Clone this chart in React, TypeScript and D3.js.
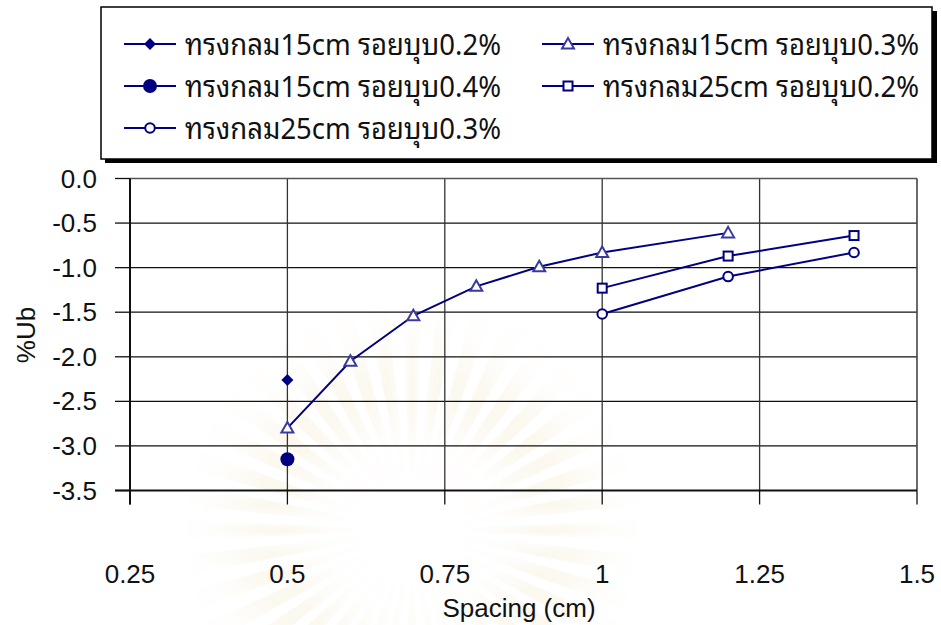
import React from "react";
import * as d3 from "d3";

// Spacing (cm) on x, %Ub on y
const s1x = [0.5];
const s1y = [-2.26];
const s2x = [0.5, 0.6, 0.7, 0.8, 0.9, 1.0, 1.2];
const s2y = [-2.8, -2.05, -1.54, -1.21, -0.99, -0.83, -0.61];
const s3x = [0.5];
const s3y = [-3.15];
const s4x = [1.0, 1.2, 1.4];
const s4y = [-1.23, -0.87, -0.64];
const s5x = [1.0, 1.2, 1.4];
const s5y = [-1.52, -1.1, -0.83];

const seriesNames = [
  "ทรงกลม15cm รอยบุบ0.2%",
  "ทรงกลม15cm รอยบุบ0.3%",
  "ทรงกลม15cm รอยบุบ0.4%",
  "ทรงกลม25cm รอยบุบ0.2%",
  "ทรงกลม25cm รอยบุบ0.3%",
];
const markerKinds = ["diamond", "triangle", "dot", "square", "circle"];

const xTicks = [0.25, 0.5, 0.75, 1, 1.25, 1.5];
const xTickLabels = ["0.25", "0.5", "0.75", "1", "1.25", "1.5"];
const yTicks = [0, -0.5, -1, -1.5, -2, -2.5, -3, -3.5];
const yTickLabels = ["0.0", "-0.5", "-1.0", "-1.5", "-2.0", "-2.5", "-3.0", "-3.5"];

const W = 941;
const H = 625;
const NAVY = "#000080";
const TRI = "#3a3a9e";
const FONT = "Liberation Sans, Arial, Helvetica, sans-serif";
const THAI_FONT =
  "'Noto Sans Thai Looped', 'Noto Serif Thai', Loma, Garuda, 'Tlwg Typo', 'Noto Sans Thai', 'Liberation Sans', sans-serif";

function Marker({ kind, cx, cy }: { kind: string; cx: number; cy: number }) {
  if (kind === "diamond") {
    const r = 6;
    return (
      <path
        d={`M${cx},${cy - r}L${cx + r},${cy}L${cx},${cy + r}L${cx - r},${cy}Z`}
        fill={NAVY}
      />
    );
  }
  if (kind === "dot") {
    return <circle cx={cx} cy={cy} r={7} fill={NAVY} />;
  }
  if (kind === "triangle") {
    const r = 6;
    return (
      <path
        d={`M${cx},${cy - r}L${cx + r},${cy + r * 0.75}L${cx - r},${cy + r * 0.75}Z`}
        fill="white"
        stroke={TRI}
        strokeWidth={2}
      />
    );
  }
  if (kind === "square") {
    return (
      <rect x={cx - 4.5} y={cy - 4.5} width={9} height={9} fill="white" stroke={NAVY} strokeWidth={2} />
    );
  }
  return <circle cx={cx} cy={cy} r={4.8} fill="white" stroke={NAVY} strokeWidth={2} />;
}

export default function App() {
  const left = 130;
  const right = 917;
  const top = 178.5;
  const bottom = 490.5;

  const x = d3.scaleLinear().domain([0.25, 1.5]).range([left, right]);
  const y = d3.scaleLinear().domain([0, -3.5]).range([top, bottom]);

  const series = [
    { xs: s1x, ys: s1y },
    { xs: s2x, ys: s2y },
    { xs: s3x, ys: s3y },
    { xs: s4x, ys: s4y },
    { xs: s5x, ys: s5y },
  ];

  const line = d3
    .line<[number, number]>()
    .x((d) => x(d[0]))
    .y((d) => y(d[1]));

  // faint sunburst emblem in the page background
  const rayArc = d3.arc<any>();
  const rays = d3.range(0, 40).map((i) => {
    const a0 = (i / 40) * Math.PI * 2;
    return rayArc({
      innerRadius: 55,
      outerRadius: 225,
      startAngle: a0 - 0.045,
      endAngle: a0 + 0.045,
    }) as string;
  });

  // legend layout: two columns, three rows
  const legendCols = [124, 542];
  const legendRows = [44, 86, 128];
  const legendOrder = [0, 1, 2, 3, 4];

  return (
    <svg width={W} height={H} style={{ display: "block", position: "absolute", left: 0, top: 0 }}>
      <rect x={0} y={0} width={W} height={H} fill="white" />
      <defs>
        <radialGradient id="emblemFade" cx="0.5" cy="0.5" r="0.5">
          <stop offset="0.2" stopColor="#f7eed6" stopOpacity={0.8} />
          <stop offset="1" stopColor="#fcf8ec" stopOpacity={0.15} />
        </radialGradient>
      </defs>
      <g transform="translate(412,530)" opacity={0.45}>
        {rays.map((d, i) => (
          <path key={i} d={d} fill="url(#emblemFade)" />
        ))}
      </g>

      {/* gridlines */}
      {yTicks
        .filter((t) => t !== 0 && t !== -3.5)
        .map((t) => (
          <line key={"gy" + t} x1={left} x2={right} y1={y(t)} y2={y(t)} stroke="#111" strokeWidth={1.3} />
        ))}
      {xTicks
        .filter((t) => t !== 0.25 && t !== 1.5)
        .map((t) => (
          <line key={"gx" + t} x1={x(t)} x2={x(t)} y1={top} y2={bottom} stroke="#333" strokeWidth={1.3} />
        ))}

      {/* plot frame */}
      <line x1={left} x2={right} y1={top} y2={top} stroke="#555" strokeWidth={1.6} />
      <line x1={right} x2={right} y1={top} y2={bottom} stroke="#444" strokeWidth={1.6} />
      <line x1={left} x2={left} y1={top} y2={bottom + 14} stroke="#111" strokeWidth={2} />
      <line x1={left - 15} x2={right} y1={bottom} y2={bottom} stroke="#111" strokeWidth={2} />

      {/* ticks */}
      {yTicks.map((t) => (
        <line key={"ty" + t} x1={left - 15} x2={left} y1={y(t)} y2={y(t)} stroke="#111" strokeWidth={1.3} />
      ))}
      {xTicks.map((t) => (
        <line key={"tx" + t} x1={x(t)} x2={x(t)} y1={bottom} y2={bottom + 14} stroke="#111" strokeWidth={1.3} />
      ))}

      {/* tick labels */}
      {yTicks.map((t, i) => (
        <text
          key={"ly" + t}
          x={97}
          y={y(t)}
          dy="0.35em"
          textAnchor="end"
          fontFamily={FONT}
          fontSize={26}
          fill="#111"
        >
          {yTickLabels[i]}
        </text>
      ))}
      {xTicks.map((t, i) => (
        <text
          key={"lx" + t}
          x={x(t)}
          y={583}
          textAnchor="middle"
          fontFamily={FONT}
          fontSize={26}
          fill="#111"
        >
          {xTickLabels[i]}
        </text>
      ))}

      {/* axis titles */}
      <text x={519} y={617} textAnchor="middle" fontFamily={FONT} fontSize={26} fill="#111">
        Spacing (cm)
      </text>
      <text
        transform="translate(35,335) rotate(-90)"
        textAnchor="middle"
        fontFamily={FONT}
        fontSize={26}
        fill="#111"
      >
        %Ub
      </text>

      {/* series */}
      {series.map((s, i) => {
        const pts = s.xs.map((v, j) => [v, s.ys[j]] as [number, number]);
        return (
          <g key={"s" + i}>
            {pts.length > 1 && <path d={line(pts) as string} fill="none" stroke={NAVY} strokeWidth={2} />}
            {pts.map((p, j) => (
              <Marker key={j} kind={markerKinds[i]} cx={x(p[0])} cy={y(p[1])} />
            ))}
          </g>
        );
      })}

      {/* legend */}
      <rect x={105} y={11} width={832} height={152} fill="#000" />
      <rect x={101} y={7} width={831} height={152} fill="white" stroke="#000" strokeWidth={1.5} />
      {legendOrder.map((si, k) => {
        const col = k % 2;
        const row = Math.floor(k / 2);
        const lx = legendCols[col];
        const ly = legendRows[row];
        return (
          <g key={"lg" + si}>
            <line x1={lx} x2={lx + 52} y1={ly} y2={ly} stroke={NAVY} strokeWidth={2} />
            <Marker kind={markerKinds[si]} cx={lx + 26} cy={ly} />
            <text
              x={lx + 61}
              y={ly + 11}
              fontFamily={THAI_FONT}
              fontSize={29}
              textLength={316}
              lengthAdjust="spacingAndGlyphs"
              fill="#111"
            >
              {seriesNames[si]}
            </text>
          </g>
        );
      })}
    </svg>
  );
}
